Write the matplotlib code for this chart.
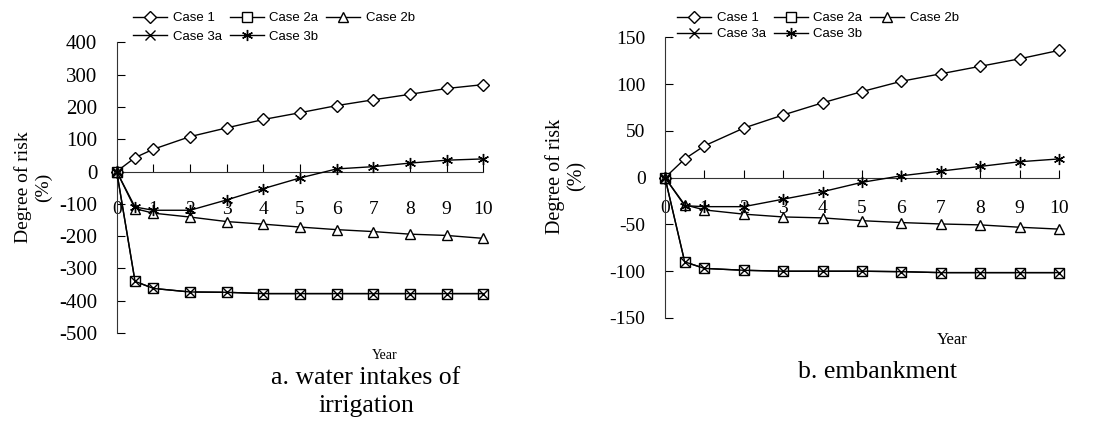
import matplotlib
matplotlib.use('Agg')
import matplotlib.pyplot as plt

plt.rcParams['axes.unicode_minus'] = False

# years at which the degree of risk was evaluated
years = [0, 0.5, 1, 2, 3, 4, 5, 6, 7, 8, 9, 10]
year_ticks = list(range(0, 11))

# a. water intakes of irrigation
irr_case1  = [0, 43, 69, 108, 135, 161, 182, 204, 222, 239, 257, 269]
irr_case2a = [0, -340, -362, -373, -374, -378, -378, -378, -378, -378, -378, -378]
irr_case2b = [0, -115, -129, -141, -155, -163, -172, -180, -186, -194, -198, -207]
irr_case3a = [0, -340, -362, -373, -374, -378, -378, -378, -378, -378, -378, -378]
irr_case3b = [0, -110, -120, -120, -88, -53, -20, 8, 15, 26, 35, 39]
irr_yticks = [-500, -400, -300, -200, -100, 0, 100, 200, 300, 400]

# b. embankment
emb_case1  = [0, 20, 34, 53, 67, 80, 92, 103, 111, 119, 127, 136]
emb_case2a = [0, -90, -97, -99, -100, -100, -100, -100.5, -101.5, -101.5, -101.5, -101.5]
emb_case2b = [0, -29, -34.5, -39, -42, -43, -46, -48, -49.5, -50.5, -53, -55]
emb_case3a = [0, -90, -97, -99, -100, -100, -100, -100.5, -101.5, -101.5, -101.5, -101.5]
emb_case3b = [0, -30, -31, -31, -23, -15, -5, 2, 7, 12, 17, 20]
emb_yticks = [-150, -100, -50, 0, 50, 100, 150]

labels = ['Case 1', 'Case 2a', 'Case 2b', 'Case 3a', 'Case 3b']
markers = ['D', 's', '^', 'x', (6, 2, 0)]
msizes = [6, 7, 7.5, 7, 8]

W, H = 1097, 423
fig = plt.figure(figsize=(W / 100, H / 100), dpi=100)
serif = 'Liberation Serif'
sans = 'Liberation Sans'


def panel(rect, series, yticks, ytick_fs, xpad):
    ax = fig.add_axes(rect)
    handles = []
    for vals, lab, mk, ms in zip(series, labels, markers, msizes):
        h, = ax.plot(years, vals, color='black', lw=1.0, marker=mk, ms=ms,
                     mfc='white', mec='black', mew=1.0, label=lab, clip_on=False,
                     zorder=3)
        handles.append(h)
    ax.set_xlim(0, 10)
    ax.set_ylim(yticks[0], yticks[-1])
    ax.set_yticks(yticks)
    ax.set_xticks(year_ticks)
    for s in ['top', 'right']:
        ax.spines[s].set_visible(False)
    ax.spines['bottom'].set_position(('data', 0))
    ax.spines['left'].set_color('#333333')
    ax.spines['bottom'].set_color('#333333')
    ax.tick_params(axis='y', direction='in', length=6, labelsize=ytick_fs, pad=14)
    ax.tick_params(axis='x', direction='in', length=6, labelsize=14, pad=xpad)
    for t in ax.get_xticklabels() + ax.get_yticklabels():
        t.set_fontfamily(serif)
    return ax, handles


# left panel
axL, hL = panel([116.7 / W, 1 - 333 / H, (483.3 - 116.7) / W, (333 - 42.3) / H],
                [irr_case1, irr_case2a, irr_case2b, irr_case3a, irr_case3b],
                irr_yticks, 15, 21)
# right panel
axR, hR = panel([665 / W, 1 - 318 / H, (1059 - 665) / W, (318 - 37.3) / H],
                [emb_case1, emb_case2a, emb_case2b, emb_case3a, emb_case3b],
                emb_yticks, 14, 16)

order = [0, 3, 1, 4, 2]
for hs, x0, spacing in [(hL, 133, 0.5), (hR, 677, 0.3)]:
    fig.legend([hs[i] for i in order], [labels[i] for i in order],
               loc='upper left', bbox_to_anchor=(x0 / W, 1 - 12 / H), ncol=3,
               frameon=False, borderpad=0, borderaxespad=0, handlelength=2.6,
               handletextpad=0.4, columnspacing=0.6, labelspacing=spacing,
               prop={'family': sans, 'size': 9.5})

# axis titles and captions
fig.text(33 / W, 1 - 187 / H, 'Degree of risk\n(%)', rotation=90, ha='center',
         va='center', multialignment='center', family=serif, fontsize=14)
fig.text(566 / W, 1 - 176 / H, 'Degree of risk\n(%)', rotation=90, ha='center',
         va='center', multialignment='center', family=serif, fontsize=14.5)
fig.text(385 / W, 1 - 355 / H, 'Year', ha='center', va='center', family=serif,
         fontsize=10)
fig.text(952 / W, 1 - 340 / H, 'Year', ha='center', va='center', family=serif,
         fontsize=12)
fig.text(366 / W, 1 - 392 / H, 'a. water intakes of\nirrigation', ha='center',
         va='center', multialignment='center', family=serif, fontsize=18.5,
         linespacing=1.35)
fig.text(878 / W, 1 - 372 / H, 'b. embankment', ha='center', va='center',
         family=serif, fontsize=18.5)

fig.savefig('out.png', dpi=100)
